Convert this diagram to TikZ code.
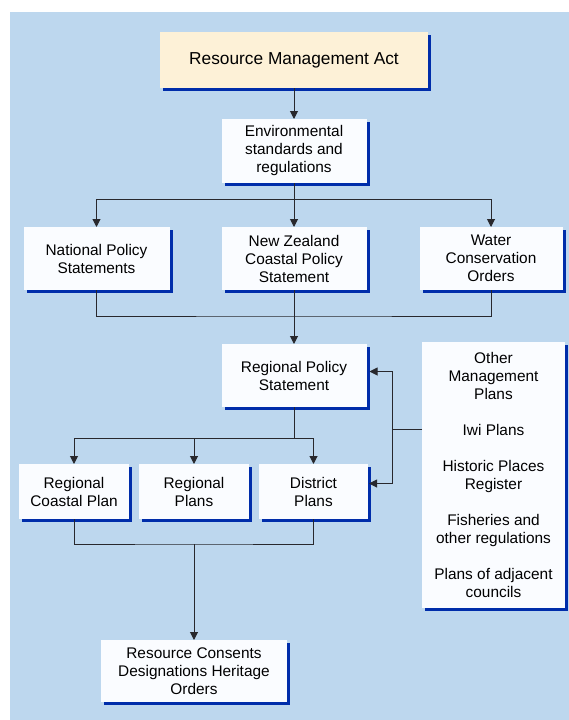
\documentclass[tikz,border=0pt]{standalone}
\usepackage{fontspec}
\setmainfont{Liberation Sans}
\usetikzlibrary{positioning,arrows.meta,shadows}

\definecolor{panelblue}{RGB}{189,215,238}
\definecolor{shadowblue}{RGB}{0,45,170}
\definecolor{actcream}{RGB}{253,241,215}
\definecolor{boxwhite}{RGB}{250,252,255}
\definecolor{linegray}{RGB}{40,40,45}

\tikzset{
  box/.style={fill=boxwhite, align=center, inner sep=0pt, outer sep=0pt,
    font=\fontsize{15.4}{18}\selectfont,
    drop shadow={shadow xshift=3pt, shadow yshift=-3pt, fill=shadowblue, opacity=1}},
  link/.style={draw=linegray, line width=1pt},
  arrow/.style={link, -{Triangle[width=8pt,length=8pt]}},
}

\begin{document}
\begin{tikzpicture}[x=1pt, y=-1pt]

\useasboundingbox (0,0) rectangle (569,720);
\fill[panelblue] (10,12) rectangle (569,720);

\node[box, fill=actcream, minimum width=268pt, minimum height=56pt, font=\fontsize{17.3}{20}\selectfont] (rma) at (294,60) {Resource Management Act};
\node[box, minimum width=145pt, minimum height=64pt] (env) [below=31pt of rma] {Environmental\\standards and\\regulations};
\node[box, minimum width=145pt, minimum height=63pt] (nzcps) [below=44pt of env] {New Zealand\\Coastal Policy\\Statement};
\node[box, minimum width=146pt, minimum height=63pt] (nps) [left=52pt of nzcps] {National Policy\\Statements};
\node[box, minimum width=143pt, minimum height=63pt] (wco) [right=53pt of nzcps] {Water\\Conservation\\Orders};
\node[box, minimum width=145pt, minimum height=63pt] (rps) [below=54pt of nzcps] {Regional Policy\\Statement};
\node[box, minimum width=110pt, minimum height=55pt] (rp) [below=57pt of rps, xshift=-100pt] {Regional\\Plans};
\node[box, minimum width=110pt, minimum height=55pt] (rcp) [left=10pt of rp] {Regional\\Coastal Plan};
\node[box, minimum width=109pt, minimum height=55pt] (dp) [right=10pt of rp] {District\\Plans};
\node[box, minimum width=186pt, minimum height=62pt] (rc) [below=121pt of rp] {Resource Consents\\Designations Heritage\\Orders};
\node[box, minimum width=143pt, minimum height=266pt, anchor=north west] (omp) at (422,342) {Other\\Management\\Plans\\[18pt]Iwi Plans\\[18pt]Historic Places\\Register\\[18pt]Fisheries and\\other regulations\\[18pt]Plans of adjacent\\councils};

% act down to the standards
\draw[arrow] (rma) -- (env);

% standards to the three statements
\draw[link] (env.south) -- ++(0,16) coordinate (fork1);
\draw[arrow] (fork1) -| (nps);
\draw[arrow] (fork1) -- (nzcps);
\draw[arrow] (fork1) -| (wco);

% statements join into the regional statement
\draw[link] (nzcps.south) -- ++(0,26) coordinate (join1);
\draw[link] (nps.south) |- (join1) -| (wco.south);
\draw[arrow] (join1) -- (rps);

% regional statement to the plans
\draw[link] (rps.south) -- ++(0,31) coordinate (fork2);
\draw[arrow] (fork2) -| (rcp);
\draw[arrow] (fork2) -| (rp);
\draw[arrow] (fork2) -| (dp);

% plans join into the consents
\coordinate (join2) at ([yshift=-25pt]rp.south);
\draw[link] (rcp.south) |- (join2) -| (dp.south);
\draw[arrow] (join2) -- (rc);

% other plans feed in from the side
\coordinate (omp_in) at ([yshift=46pt]omp.west);
\draw[link] (omp_in) -- ++(-30,0) coordinate (fork3);
\draw[arrow, shorten >=3pt] (fork3) |- ([yshift=4pt]rps.east);
\draw[arrow, shorten >=1pt] (fork3) |- ([yshift=8pt]dp.east);

\end{tikzpicture}
\end{document}
